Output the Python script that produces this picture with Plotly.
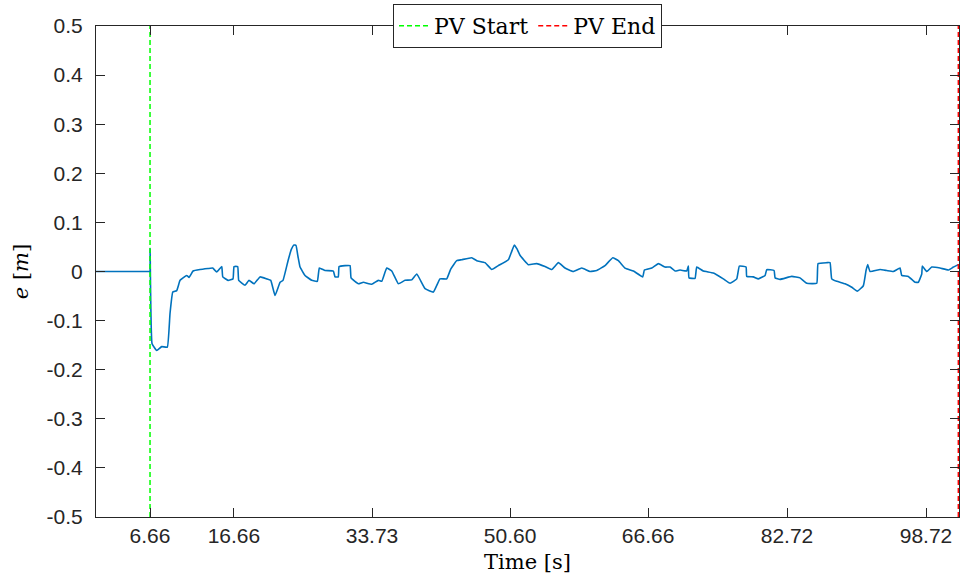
import plotly.graph_objects as go

# ---- data (time in seconds, tracking error in metres) ----
time_s = [0.22, 6.64, 6.66, 6.67, 6.90, 7.46, 8.05, 8.72, 9.04, 9.37, 9.84, 10.24, 11.03, 11.31,
          11.79, 12.62, 13.57, 14.13, 14.61, 15.21, 15.33, 15.96, 16.55, 16.67, 17.11, 17.23,
          17.98, 18.46, 19.06, 19.77, 20.57, 21.05, 21.56, 22.16, 22.51, 23.11, 23.50, 23.82, 24.06,
          24.30, 24.54, 25.13, 25.93, 26.60, 26.84, 27.52, 28.51, 28.71, 29.10, 29.19, 29.90, 30.50,
          30.62, 31.49, 32.08, 33.08, 33.87, 34.28, 34.87, 35.47, 36.26, 37.05, 37.85, 38.45,
          39.44, 40.43, 41.22, 42.02, 42.50, 43.21, 43.81, 45.00, 45.60, 46.59, 47.39, 48.17,
          49.37, 49.75, 50.08, 50.40, 50.76, 51.75, 52.75, 53.74, 54.54, 55.33, 56.12, 57.11, 58.11, 59.10,
          59.90, 60.89, 61.81, 62.48, 63.28, 64.27, 65.39, 65.58, 66.46, 67.25, 68.04, 68.64,
          69.24, 69.83, 70.63, 70.82, 70.90, 71.62, 71.82, 72.61, 73.80, 74.99, 75.79, 76.59,
          76.90, 77.70, 77.78, 78.57, 79.17, 79.97, 80.17, 81.04, 81.16, 81.75, 83.15, 84.13,
          84.93, 86.13, 86.28, 87.32, 87.71, 87.91, 88.51, 89.50, 90.30, 90.96, 91.68, 92.00,
          92.20, 92.48, 93.67, 94.47, 95.25, 96.05, 96.25, 97.04, 97.84, 98.23, 98.64, 98.71,
          99.24, 99.83, 100.82, 101.81, 102.41, 103.0]
error_m = [0.0, 0.0, 0.0, 0.047, -0.147, -0.161, -0.153, -0.154, -0.086, -0.042, -0.039, -0.018,
           -0.008, -0.012, 0.001, 0.004, 0.006, 0.007, -0.001, 0.010, -0.011, -0.018, -0.015,
           0.010, 0.010, -0.018, -0.028, -0.018, -0.025, -0.011, -0.015, -0.018, -0.049, -0.022,
           -0.018, 0.022, 0.045, 0.054, 0.053, 0.030, 0.009, -0.008, -0.018, -0.020, 0.007, 0.002, 0.001,
           -0.011, -0.011, 0.010, 0.012, 0.012, -0.013, -0.025, -0.022, -0.026, -0.018, -0.020,
           0.007, 0.001, -0.025, -0.018, -0.017, -0.005, -0.035, -0.042, -0.015, -0.015, 0.005,
           0.022, 0.024, 0.028, 0.022, 0.018, 0.004, 0.012, 0.024, 0.040, 0.054, 0.046, 0.033, 0.014, 0.016,
           0.010, 0.004, 0.018, 0.007, 0.000, 0.007, 0.000, 0.002, 0.012, 0.028, 0.022, 0.007,
           0.001, -0.011, 0.003, 0.007, 0.016, 0.009, 0.009, 0.001, 0.003, 0.001, 0.011, -0.013,
           -0.014, 0.009, 0.001, -0.003, -0.015, -0.024, -0.015, 0.011, 0.009, -0.010, -0.011,
           -0.015, -0.008, 0.004, 0.002, -0.013, -0.016, -0.010, -0.013, -0.024, -0.024, 0.016,
           0.018, 0.018, -0.015, -0.020, -0.025, -0.032, -0.040, -0.029, 0.002, 0.014, 0.000,
           0.004, 0.002, 0.000, 0.007, -0.008, -0.010, -0.022, -0.022, -0.005, 0.011, 0.000,
           0.009, 0.007, 0.003, 0.009, 0.014]

pv_start = 6.66
pv_end = 103.0

x_tick_positions = [6.66, 16.66, 33.12, 49.57, 66.02, 82.58, 99.15]
x_tick_labels = ["6.66", "16.66", "33.73", "50.60", "66.66", "82.72", "98.72"]
y_tick_values = [0.5, 0.4, 0.3, 0.2, 0.1, 0.0, -0.1, -0.2, -0.3, -0.4, -0.5]
y_tick_labels = ["0.5", "0.4", "0.3", "0.2", "0.1", "0", "-0.1", "-0.2", "-0.3", "-0.4", "-0.5"]

x_range = [0.22, 103.08]
y_range = [-0.5, 0.5]

axis_col = "#262626"
sans = "Liberation Sans, Arial, sans-serif"
serif = "DejaVu Serif, serif"

fig = go.Figure()
fig.add_trace(go.Scatter(x=time_s, y=error_m, mode="lines",
                         line=dict(color="#0072BD", width=1.6, shape="spline", smoothing=0.3),
                         showlegend=False, hoverinfo="skip"))
fig.add_trace(go.Scatter(x=[pv_start, pv_start], y=y_range, mode="lines", name="PV Start",
                         line=dict(color="#00FF00", width=1.5, dash="5px,3px")))
fig.add_trace(go.Scatter(x=[pv_end, pv_end], y=y_range, mode="lines", name="PV End",
                         line=dict(color="#FF0000", width=1.5, dash="5px,3px")))

fig.update_layout(
    width=960, height=579,
    margin=dict(l=96, r=1, t=26, b=62),
    paper_bgcolor="white", plot_bgcolor="white",
    legend=dict(orientation="h", x=0.5, xanchor="center", y=1.0, yanchor="middle",
                bgcolor="white", bordercolor=axis_col, borderwidth=1,
                font=dict(family=serif, size=22, color="black"),
                itemwidth=30, tracegroupgap=0),
)
fig.update_xaxes(range=x_range, tickvals=x_tick_positions, ticktext=x_tick_labels,
                 showgrid=False, zeroline=False, showline=True, linecolor=axis_col,
                 linewidth=1, mirror="ticks", ticks="inside", ticklen=9, tickcolor=axis_col,
                 tickfont=dict(family=sans, size=21, color=axis_col),
                 title=dict(text="Time [s]", font=dict(family=serif, size=21, color="black"),
                            standoff=8))
fig.update_yaxes(range=y_range, tickvals=y_tick_values, ticktext=y_tick_labels,
                 showgrid=False, zeroline=False, showline=True, linecolor=axis_col,
                 linewidth=1, mirror="ticks", ticks="inside", ticklen=9, tickcolor=axis_col,
                 tickfont=dict(family=sans, size=21, color=axis_col), ticklabelstandoff=8,
                 title=dict(text="<i>e</i> [<i>m</i>]",
                            font=dict(family=serif, size=21, color="black"), standoff=12))

fig.write_html("out.html")
